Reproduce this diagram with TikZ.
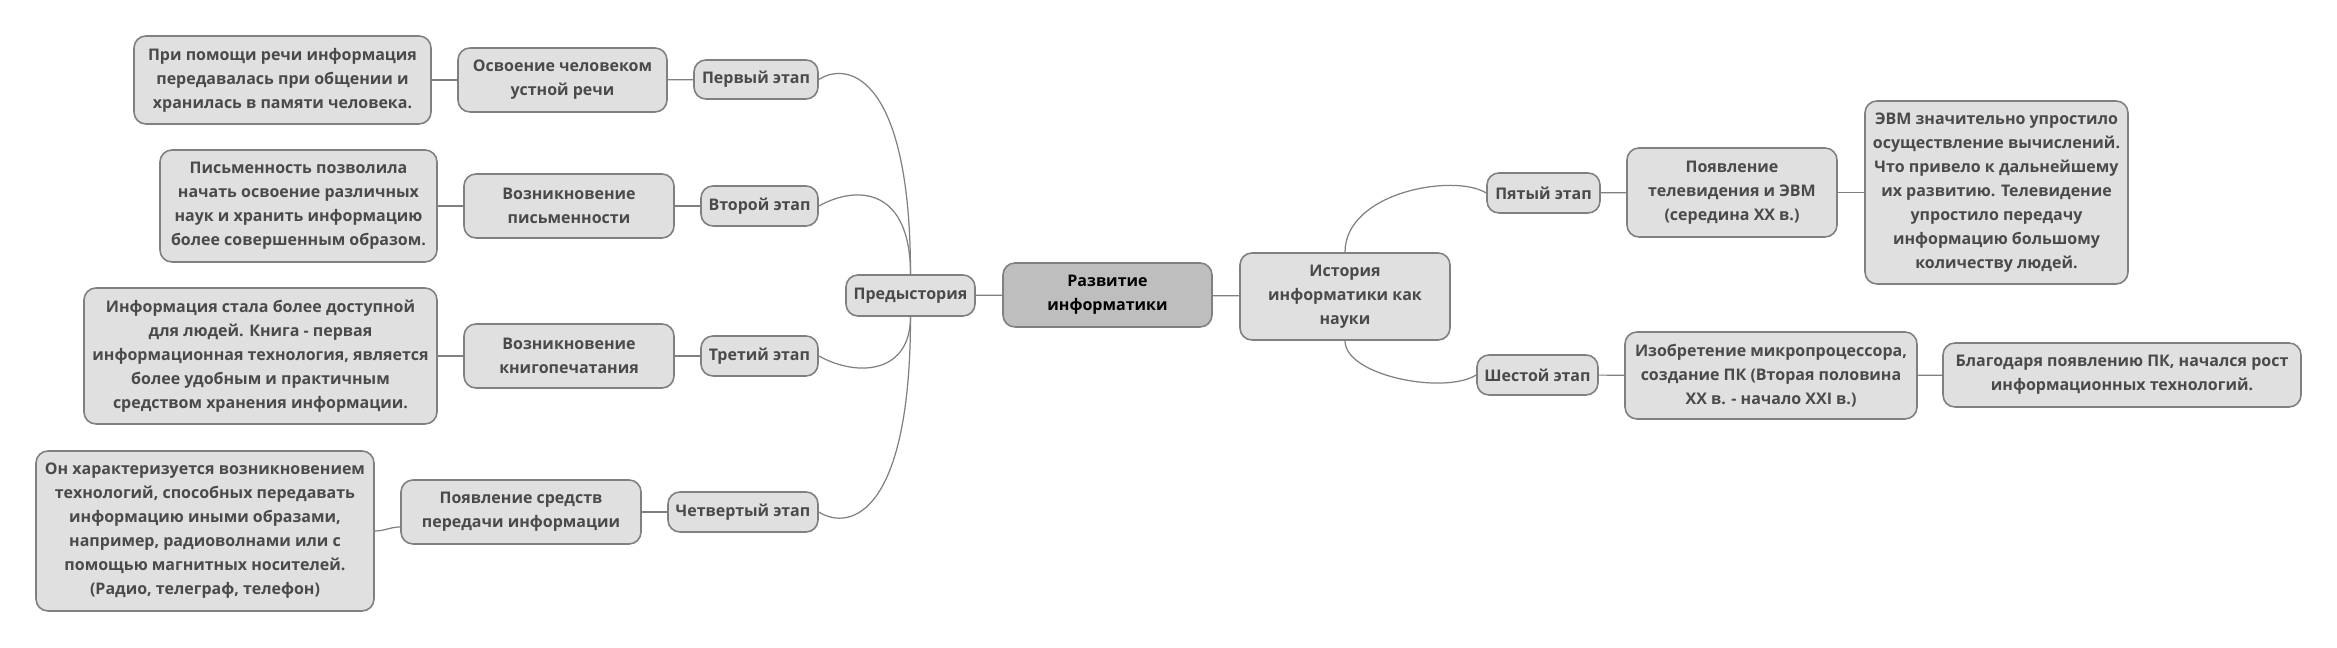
\documentclass[tikz,border=0pt]{standalone}
\usepackage{fontspec}
\setmainfont{Open Sans}
\usepackage{tikz}
\usetikzlibrary{positioning}

\definecolor{boxfill}{HTML}{E0E0E0}
\definecolor{rootfill}{HTML}{BEBEBE}
\definecolor{boxline}{HTML}{808080}
\definecolor{boxtext}{HTML}{4A4A4A}

\tikzset{
  topic/.style={draw=boxline, line width=0.45pt, fill=boxfill, rounded corners=3.4pt,
    text=boxtext, align=center, inner xsep=0.05cm, inner ysep=0pt,
    font=\fontsize{4.55pt}{6.83pt}\selectfont\bfseries},
  rootnode/.style={topic, fill=rootfill, text=black},
  link/.style={draw=boxline, line width=0.35pt}
}

\begin{document}
\begin{tikzpicture}
    \useasboundingbox (0,0) rectangle (23.37,-6.48);
    \node[rootnode, minimum width=2.09cm, minimum height=0.64cm] (R) at (11.075,-2.95) {Развитие\\информатики};
    \node[topic, minimum width=1.29cm, minimum height=0.41cm] (P) at (9.105,-2.955) {Предыстория};
    \node[topic, minimum width=2.10cm, minimum height=0.87cm] (H) at (13.45,-2.965) {История\\информатики как\\науки};
    \draw[link] (P) -- (R);
    \draw[link] (R) -- (H);
    \node[topic, minimum width=1.24cm, minimum height=0.39cm] (S1) at (7.56,-0.795) {Первый этап};
    \node[topic, minimum width=1.17cm, minimum height=0.40cm] (S2) at (7.595,-2.06) {Второй этап};
    \node[topic, minimum width=1.17cm, minimum height=0.40cm] (S3) at (7.595,-3.56) {Третий этап};
    \node[topic, minimum width=1.50cm, minimum height=0.40cm] (S4) at (7.43,-5.12) {Четвертый этап};
    \draw[link] (S1.east) .. controls +(0.32,0.20) and +(0,1.93) .. (P.north);
    \draw[link] (S2.east) .. controls +(0.40,0.22) and +(0,0.85) .. (P.north);
    \draw[link] (S3.east) .. controls +(0.40,-0.22) and +(0,-0.56) .. (P.south);
    \draw[link] (S4.east) .. controls +(0.32,-0.20) and +(0,-1.96) .. (P.south);
    \node[topic, minimum width=2.09cm, minimum height=0.64cm] (T1) at (5.625,-0.80) {Освоение человеком\\устной речи};
    \node[topic, minimum width=2.10cm, minimum height=0.64cm] (T2) at (5.69,-2.06) {Возникновение\\письменности};
    \node[topic, minimum width=2.10cm, minimum height=0.64cm] (T3) at (5.69,-3.56) {Возникновение\\книгопечатания};
    \node[topic, minimum width=2.40cm, minimum height=0.64cm] (T4) at (5.21,-5.12) {Появление средств\\передачи информации};
    \draw[link] (T1) -- (S1);
    \draw[link] (T2) -- (S2);
    \draw[link] (T3) -- (S3);
    \draw[link] (T4) -- (S4);
    \node[topic, minimum width=2.97cm, minimum height=0.88cm] (D1) at (2.825,-0.80) {При помощи речи информация\\передавалась при общении и\\хранилась в памяти человека.};
    \node[topic, minimum width=2.77cm, minimum height=1.12cm] (D2) at (2.985,-2.06) {Письменность позволила\\начать освоение различных\\наук и хранить информацию\\более совершенным образом.};
    \node[topic, minimum width=3.53cm, minimum height=1.36cm] (D3) at (2.605,-3.56) {Информация стала более доступной\\для людей. Книга - первая\\информационная технология, является\\более удобным и практичным\\средством хранения информации.};
    \node[topic, minimum width=3.38cm, minimum height=1.60cm] (D4) at (2.05,-5.31) {Он характеризуется возникновением\\технологий, способных передавать\\информацию иными образами,\\например, радиоволнами или с\\помощью магнитных носителей.\\(Радио, телеграф, телефон)};
    \draw[link] (D1) -- (T1);
    \draw[link] (D2) -- (T2);
    \draw[link] (D3) -- (T3);
    \draw[link] (D4.east) to[out=0, in=180] ([yshift=-0.15cm]T4.west);
    \node[topic, minimum width=1.13cm, minimum height=0.40cm] (S5) at (15.435,-1.93) {Пятый этап};
    \node[topic, minimum width=1.21cm, minimum height=0.40cm] (S6) at (15.375,-3.75) {Шестой этап};
    \draw[link] (H.north) .. controls +(0,0.60) and +(-0.32,0.20) .. (S5.west);
    \draw[link] (H.south) .. controls +(0,-0.35) and +(-0.32,-0.20) .. (S6.west);
    \node[topic, minimum width=2.10cm, minimum height=0.89cm] (T5) at (17.32,-1.925) {Появление\\телевидения и ЭВМ\\(середина XX в.)};
    \node[topic, minimum width=2.92cm, minimum height=0.87cm] (T6) at (17.71,-3.755) {Изобретение микропроцессора,\\создание ПК (Вторая половина\\XX в. - начало XXI в.)};
    \draw[link] (S5) -- (T5);
    \draw[link] (S6) -- (T6);
    \node[topic, minimum width=2.63cm, minimum height=1.83cm] (D5) at (19.965,-1.925) {ЭВМ значительно упростило\\осуществление вычислений.\\Что привело к дальнейшему\\их развитию. Телевидение\\упростило передачу\\информацию большому\\количеству людей.};
    \node[topic, minimum width=3.58cm, minimum height=0.64cm] (D6) at (21.22,-3.75) {Благодаря появлению ПК, начался рост\\информационных технологий.};
    \draw[link] (T5) -- (D5);
    \draw[link] (T6) -- (D6);
\end{tikzpicture}
\end{document}
